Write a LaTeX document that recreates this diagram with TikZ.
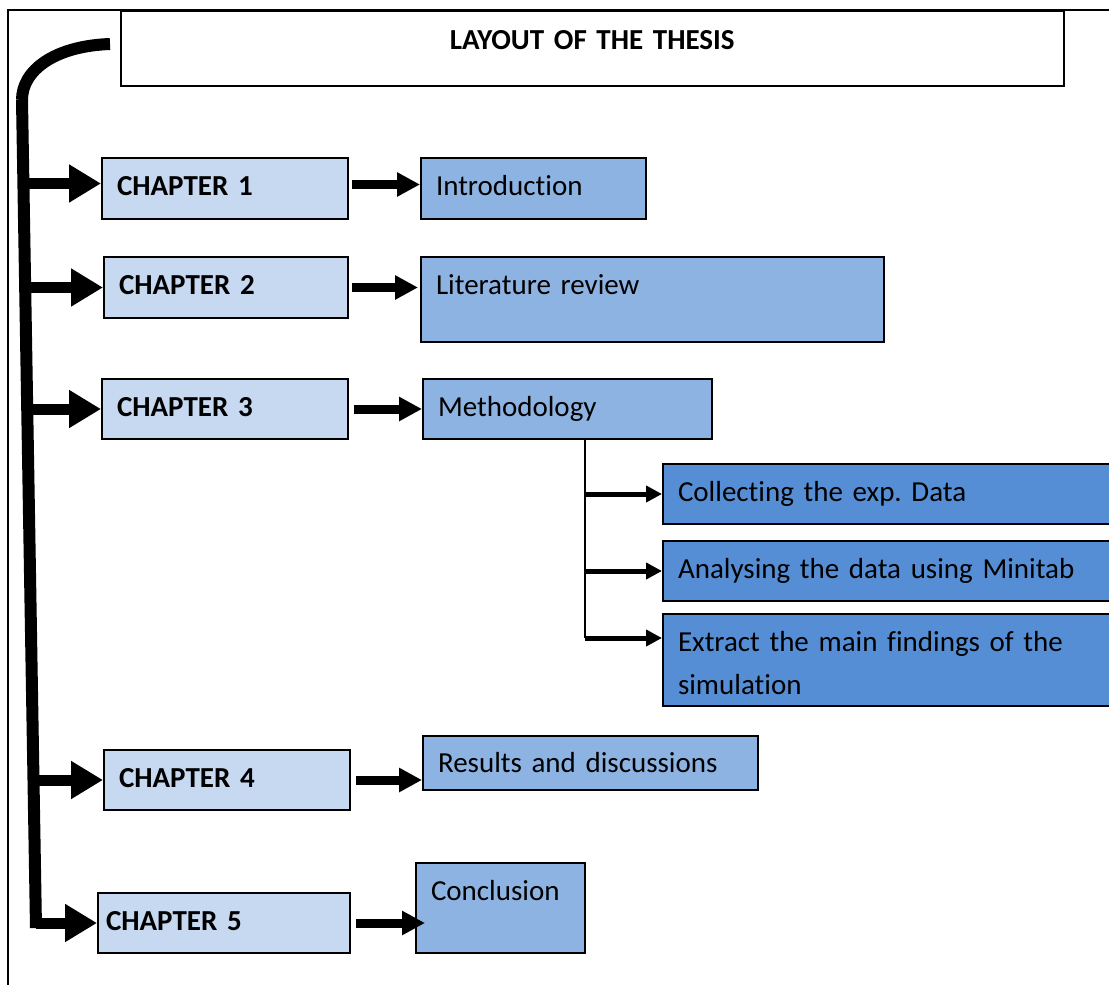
\documentclass[tikz,border=0pt]{standalone}
\usepackage{fontspec}
\setmainfont{Carlito}[Ligatures={CommonOff, ContextualOff}]
\frenchspacing
\definecolor{chapblue}{RGB}{198, 217, 241}
\definecolor{topicblue}{RGB}{141, 179, 226}
\definecolor{stepblue}{RGB}{85, 142, 213}
\usetikzlibrary{arrows.meta, positioning, calc}

\begin{document}
\begin{tikzpicture}[x=1pt, y=-1pt,
  every node/.style={anchor=north west, inner xsep=15pt, inner ysep=0pt, text height=37pt, align=left, line width=2pt, font=\fontsize{29}{43}\selectfont},
  chapbox/.style={draw, fill=chapblue, font=\fontsize{29}{43}\selectfont\bfseries, text width=216pt, text depth=24pt},
  topicbox/.style={draw, fill=topicblue, text depth=24pt},
  stepbox/.style={draw, fill=stepblue, text width=430pt, text depth=23pt},
  bigarrow/.style={line width=11pt, -{Triangle[length=32pt, width=36pt]}},
  midarrow/.style={line width=9pt, -{Triangle[length=23pt, width=23pt]}, shorten <=3pt},
  smallarrow/.style={line width=5pt, -{Triangle[length=16pt, width=16pt]}},
  trunkline/.style={line width=12pt}]
  \useasboundingbox (0,0) rectangle (1109,985);
  \draw[line width=1.5pt] (8,985) -- (8,10) -- (1109,10);

  \node[draw, fill=white, line width=1.5pt, text width=913pt, align=center, text height=39pt, text depth=36pt, font=\fontsize{29}{43}\selectfont\bfseries] (title) at (120,10) {LAYOUT OF THE THESIS};

  \node[chapbox] (ch1) at (101,157) {CHAPTER 1};
  \node[chapbox, text width=214pt] (ch2) at (103,256) {CHAPTER 2};
  \node[chapbox, text depth=23pt] (ch3) at (101,378) {CHAPTER 3};
  \node[chapbox, text depth=23pt] (ch4) at (103,749) {CHAPTER 4};
  \node[chapbox, text depth=23pt, inner xsep=8pt, text width=236pt] (ch5) at (97,892) {CHAPTER 5};

  \node[topicbox, text width=195pt] (intro) at (420,157) {Introduction};
  \node[topicbox, text width=433pt, text depth=48pt] (lit) at (420,256) {Literature review};
  \node[topicbox, text width=259pt, text depth=23pt] (meth) at (422,378) {Methodology};
  \node[topicbox, text width=305pt, text height=36pt, text depth=18pt] (res) at (422,735) {Results and discussions};
  \node[topicbox, text width=139pt, text depth=53pt] (concl) at (415,862) {Conclusion};

  \node[stepbox] (collect) at (662,463) {Collecting the exp. Data};
  \node[stepbox] (analyse) at (662,540) {Analysing the data using Minitab};
  \node[stepbox, text depth=55pt] (extract) at (662,613) {Extract the main findings of the\\simulation};

  \coordinate (arc-start) at (110,44);
  \coordinate (trunk-top) at (22,100);
  \coordinate (trunk-bot) at (36,928);
  \draw[trunkline] (arc-start) .. controls (55,46) and (22,70) .. (trunk-top);
  \draw[trunkline] (trunk-top) -- (trunk-bot);

  \draw[bigarrow] ([yshift=5pt]trunk-top |- ch1.west) -- ([yshift=5pt]ch1.west);
  \draw[bigarrow] (trunk-top |- ch2.west) -- (ch2.west);
  \draw[bigarrow] (trunk-top |- ch3.west) -- (ch3.west);
  \draw[bigarrow] (trunk-bot |- ch4.west) -- (ch4.west);
  \draw[bigarrow] (trunk-bot |- ch5.west) -- (ch5.west);

  \draw[midarrow] ([yshift=4pt]ch1.east) -- ([yshift=4pt]intro.west);
  \draw[midarrow, shorten >=2pt] (ch2.east) -- (lit.west |- ch2.east);
  \draw[midarrow, shorten <=5pt] (ch3.east) -- (meth.west |- ch3.east);
  \draw[midarrow, shorten <=5pt] (ch4.east) -- (res.west |- ch4.east);
  \draw[midarrow, shorten <=5pt, shorten >=-10pt] (ch5.east) -- (concl.west |- ch5.east);

  \coordinate (meth-out) at ([xshift=17.5pt]meth.south);
  \coordinate (extract-in) at ([yshift=22pt]extract.west);
  \draw[line width=2pt] (meth-out) -- (meth-out |- extract-in);
  \draw[smallarrow] (meth-out |- collect.west) -- (collect.west);
  \draw[smallarrow] (meth-out |- analyse.west) -- (analyse.west);
  \draw[smallarrow] (meth-out |- extract-in) -- (extract-in);
\end{tikzpicture}
\end{document}
